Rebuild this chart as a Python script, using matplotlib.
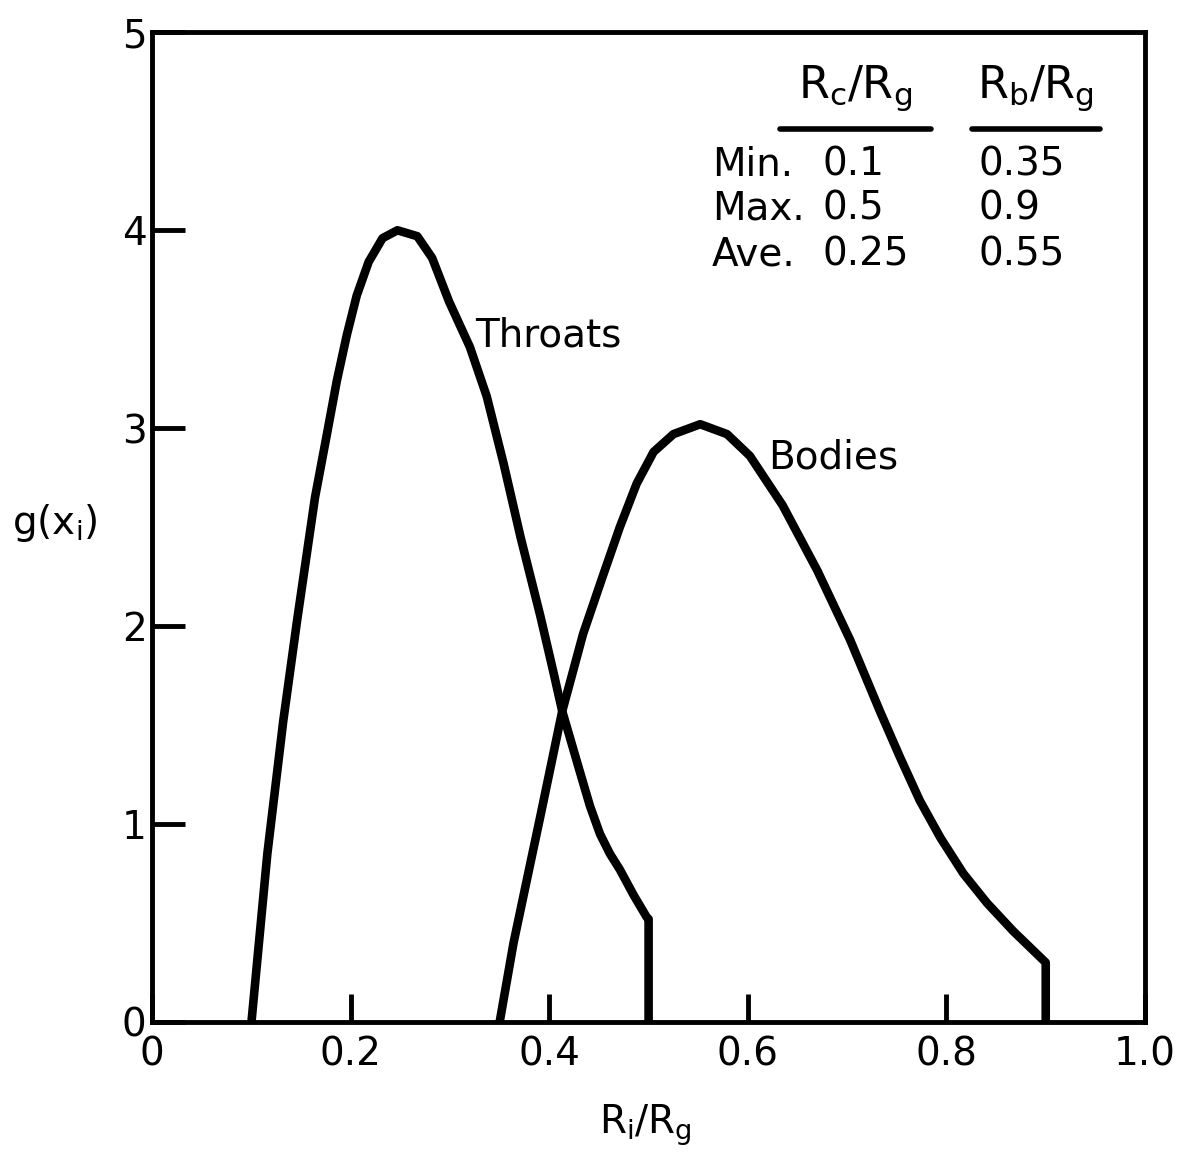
import numpy as np
import matplotlib
matplotlib.use('Agg')
import matplotlib.pyplot as plt

# curve values
throats_x = [0.10, 0.116, 0.132, 0.146, 0.164, 0.176, 0.186, 0.196, 0.206, 0.218,
             0.232, 0.247, 0.267, 0.282, 0.299, 0.320, 0.337, 0.354, 0.371, 0.391,
             0.404, 0.413, 0.431, 0.441, 0.451, 0.461, 0.471, 0.485, 0.498, 0.50, 0.50]
throats_y = [0.0, 0.85, 1.52, 2.03, 2.65, 2.97, 3.24, 3.47, 3.67, 3.84,
             3.96, 4.00, 3.97, 3.86, 3.64, 3.41, 3.16, 2.82, 2.45, 2.05,
             1.77, 1.57, 1.26, 1.09, 0.95, 0.85, 0.77, 0.64, 0.53, 0.52, 0.0]

bodies_x = [0.35, 0.364, 0.380, 0.391, 0.413, 0.434, 0.453, 0.471, 0.488, 0.505,
            0.525, 0.552, 0.579, 0.602, 0.635, 0.670, 0.703, 0.733, 0.753, 0.773,
            0.794, 0.817, 0.841, 0.867, 0.900, 0.90]
bodies_y = [0.0, 0.40, 0.78, 1.04, 1.57, 1.96, 2.24, 2.50, 2.72, 2.88,
            2.97, 3.02, 2.97, 2.86, 2.61, 2.28, 1.93, 1.57, 1.34, 1.12,
            0.93, 0.75, 0.60, 0.46, 0.30, 0.0]

xticks = [0, 0.2, 0.4, 0.6, 0.8, 1.0]
xticklabels = ['0', '0.2', '0.4', '0.6', '0.8', '1.0']
yticks = [0, 1, 2, 3, 4, 5]

row_names = ['Min.', 'Max.', 'Ave.']
rc_vals = ['0.1', '0.5', '0.25']
rb_vals = ['0.35', '0.9', '0.55']

plt.rcParams['font.family'] = ['DejaVu Sans']
plt.rcParams['mathtext.fontset'] = 'dejavusans'

fig = plt.figure(figsize=(11.89, 11.56), dpi=100)
ax = fig.add_axes([0.128, 0.116, 0.835, 0.856])

ax.plot(throats_x, throats_y, color='black', lw=6.2, solid_joinstyle='round', solid_capstyle='round')
ax.plot(bodies_x, bodies_y, color='black', lw=6.2, solid_joinstyle='round', solid_capstyle='round')

ax.set_xlim(0, 1.0)
ax.set_ylim(0, 5)
ax.set_xticks(xticks)
ax.set_xticklabels(xticklabels)
ax.set_yticks(yticks)
for s in ax.spines.values():
    s.set_linewidth(3.5)
ax.tick_params(axis='x', direction='in', length=20, width=3.5, labelsize=28, pad=10)
ax.tick_params(axis='y', direction='in', length=24, width=3.5, labelsize=28, pad=4)

ax.text(-0.098, 0.504, r'g(x$_\mathrm{i}$)', transform=ax.transAxes, fontsize=28, ha='center', va='center')
ax.text(0.497, -0.104, r'R$_\mathrm{i}$/R$_\mathrm{g}$', transform=ax.transAxes, fontsize=28, ha='center', va='center')

ax.text(0.325, 3.47, 'Throats', fontsize=28, ha='left', va='center')
ax.text(0.620, 2.85, 'Bodies', fontsize=28, ha='left', va='center')

# little table in the upper right
ax.text(0.708, 4.72, r'R$_\mathrm{c}$/R$_\mathrm{g}$', fontsize=32, ha='center', va='center')
ax.text(0.890, 4.72, r'R$_\mathrm{b}$/R$_\mathrm{g}$', fontsize=32, ha='center', va='center')
ax.plot([0.632, 0.784], [4.51, 4.51], color='black', lw=4, solid_capstyle='round')
ax.plot([0.826, 0.955], [4.51, 4.51], color='black', lw=4, solid_capstyle='round')
row_y = [4.33, 4.11, 3.88]
for name, a, b, yy in zip(row_names, rc_vals, rb_vals, row_y):
    ax.text(0.564, yy, name, fontsize=28, ha='left', va='center')
    ax.text(0.675, yy, a, fontsize=28, ha='left', va='center')
    ax.text(0.832, yy, b, fontsize=28, ha='left', va='center')

fig.savefig('out.png', dpi=100)
